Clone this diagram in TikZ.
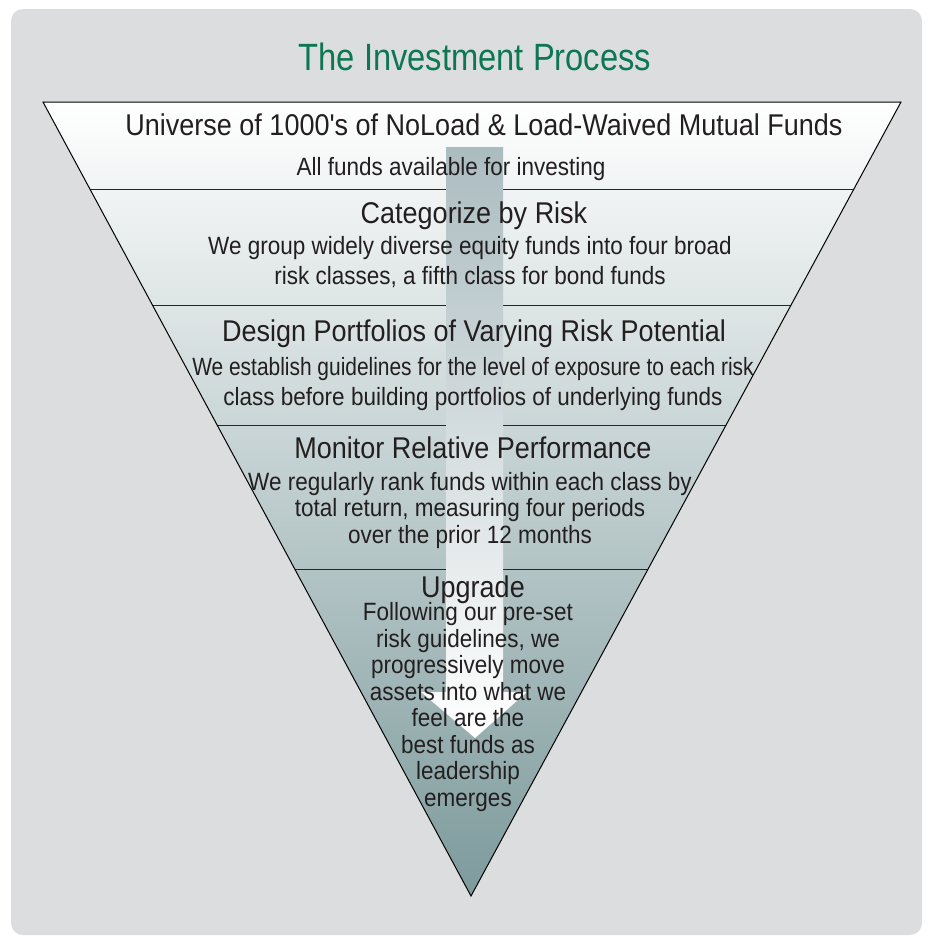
\documentclass[tikz,border=0pt]{standalone}
\usepackage{fontspec}
\usetikzlibrary{calc}

\newfontfamily\condfont{Liberation Sans}[FakeStretch=0.9]
\newfontfamily\tightfont{Liberation Sans}[FakeStretch=0.837]
\newfontfamily\titlefont{Liberation Sans}[FakeStretch=0.86]

\definecolor{panelgray}{HTML}{DCDDDF}
\definecolor{titlegreen}{HTML}{0D7752}
\definecolor{inkgray}{HTML}{231F20}
\definecolor{funnelbottom}{HTML}{7D9A9C}
\definecolor{arrowtop}{HTML}{ABBCC0}

\tikzset{
  heading/.style={font=\condfont\fontsize{30}{34}\selectfont, text=inkgray, inner sep=0pt, anchor=base},
  blurb/.style={font=\condfont\fontsize{25}{30}\selectfont, text=inkgray, inner sep=0pt, align=center, anchor=base},
}

\begin{document}
\begin{tikzpicture}[x=1pt,y=-1pt]
  \useasboundingbox (0,0) rectangle (927,937);
  \fill[panelgray, rounded corners=12pt] (11,9) rectangle (922,935);

  % funnel
  \coordinate (tl) at (43,102);
  \coordinate (tr) at (901,102);
  \coordinate (apex) at (471,896);
  \shade[top color=white, bottom color=funnelbottom] (tl) -- (tr) -- (apex) -- cycle;
  \foreach \f in {0.1096,0.2557,0.4068,0.5894}
    \draw[black!85, line width=1pt] ($(tl)!\f!(apex)$) -- ($(tr)!\f!(apex)$);
  \draw[black, line width=1pt] (tl) -- (tr) -- (apex) -- cycle;

  % arrow down the middle
  \shade[top color=arrowtop, bottom color=white]
    (446,147) -- (503,147) -- (503,692) -- (527,692) -- (475,738) -- (421,692) -- (446,692) -- cycle;

  \node[font=\titlefont\fontsize{38}{40}\selectfont, text=titlegreen, inner sep=0pt, anchor=base] (title) at (475,70) {The Investment Process};

  % texts sit on the baseline of their last line
  \node[heading] (univ) at (484,135.7) {Universe of 1000's of NoLoad \& Load-Waived Mutual Funds};
  \node[blurb] (univtxt) at (451,175) {All funds available for investing};

  \node[heading] (risk) at (474,223) {Categorize by Risk};
  \node[blurb, font=\condfont\fontsize{25}{30.5}\selectfont] (risktxt) at (470,284.8)
    {We group widely diverse equity funds into four broad\\risk classes, a fifth class for bond funds};

  \node[heading] (design) at (474,341.7) {Design Portfolios of Varying Risk Potential};
  \node[blurb, font=\condfont\fontsize{25}{29.3}\selectfont] (designtxt) at (473,405)
    {{\tightfont We establish guidelines for the level of exposure to each risk}\\class before building portfolios of underlying funds};

  \node[heading] (monitor) at (473,458.3) {Monitor Relative Performance};
  \node[blurb, font=\condfont\fontsize{25}{26.7}\selectfont] (monitortxt) at (470,543.4)
    {We regularly rank funds within each class by\\total return, measuring four periods\\over the prior 12 months};

  \node[heading] (upgrade) at (473,597.3) {Upgrade};
  \node[blurb, font=\condfont\fontsize{25}{26.5}\selectfont] (upgradetxt) at (468,806.2)
    {Following our pre-set\\risk guidelines, we\\progressively move\\assets into what we\\feel are the\\best funds as\\leadership\\emerges};
\end{tikzpicture}
\end{document}
